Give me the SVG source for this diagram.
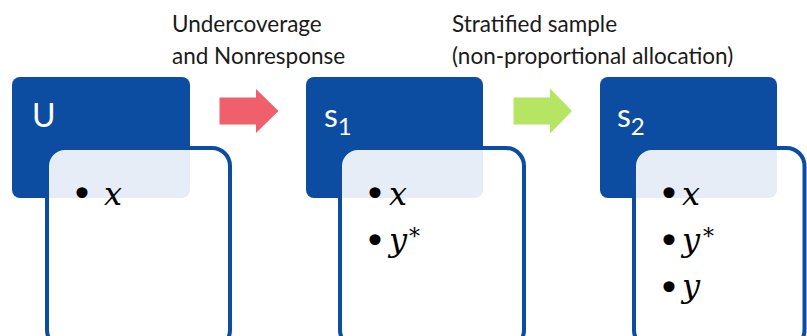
<svg xmlns="http://www.w3.org/2000/svg" width="807" height="336" viewBox="0 0 807 336">
<style>
.head{fill:#0D4DA1}
.box{fill:#FFFFFF;fill-opacity:0.9;stroke:#0D4DA1;stroke-width:4}
.lbl{font-family:Lato,"Open Sans","Liberation Sans",sans-serif;fill:#FFFFFF;font-size:32px}
.cap{font-family:Lato,"Open Sans","Liberation Sans",sans-serif;fill:#1A1A1A;font-size:22.5px}
.bul{font-family:"DejaVu Sans","Liberation Sans",sans-serif;font-size:38px;fill:#000;text-anchor:middle;dominant-baseline:central}
.m{font-family:"DejaVu Serif","Liberation Serif",serif;font-style:italic;font-size:32px;fill:#000}
.ast{font-family:"DejaVu Serif","Liberation Serif",serif;font-size:22px;fill:#000}
</style>
<g id="connectors">
<polygon id="arrow-undercoverage" points="219.5,97.5 256,97.5 256,89 278.5,111 256,133 256,124.5 219.5,124.5" fill="#EF5F6C"/>
<polygon id="arrow-stratified" points="513.5,97.5 550,97.5 550,88.5 572,111 550,133.5 550,124.5 513.5,124.5" fill="#B5E563"/>
<text class="cap" x="172" y="32">Undercoverage</text>
<text class="cap" x="172" y="64">and Nonresponse</text>
<text class="cap" x="452" y="32">Stratified sample</text>
<text class="cap" x="452" y="64">(non-proportional allocation)</text>
</g>
<g id="node-U">
<rect class="head" x="12" y="77" width="178" height="121" rx="8"/>
<text class="lbl" x="32" y="127">U</text>
<rect class="box" x="47" y="148" width="183" height="200" rx="18"/>
<text class="bul" x="82" y="194">•</text>
<text class="m" x="104" y="205">x</text>
</g>
<g id="node-s1">
<rect class="head" x="306" y="77" width="177" height="121" rx="8"/>
<text class="lbl" x="324" y="127">s<tspan font-size="24" dy="8">1</tspan></text>
<rect class="box" x="340" y="148" width="184" height="200" rx="18"/>
<text class="bul" x="375" y="194">•</text>
<text class="m" x="389" y="205">x</text>
<text class="bul" x="375" y="241">•</text>
<text class="m" x="389" y="251">y</text>
<text class="ast" x="409" y="244">*</text>
</g>
<g id="node-s2">
<rect class="head" x="600" y="77" width="177" height="121" rx="8"/>
<text class="lbl" x="617" y="127">s<tspan font-size="24" dy="8">2</tspan></text>
<rect class="box" x="634" y="148" width="170.5" height="200" rx="18"/>
<text class="bul" x="669" y="194">•</text>
<text class="m" x="682" y="205">x</text>
<text class="bul" x="669" y="241">•</text>
<text class="m" x="682" y="251">y</text>
<text class="ast" x="703" y="244">*</text>
<text class="bul" x="669" y="288">•</text>
<text class="m" x="682" y="297">y</text>
</g>
</svg>
